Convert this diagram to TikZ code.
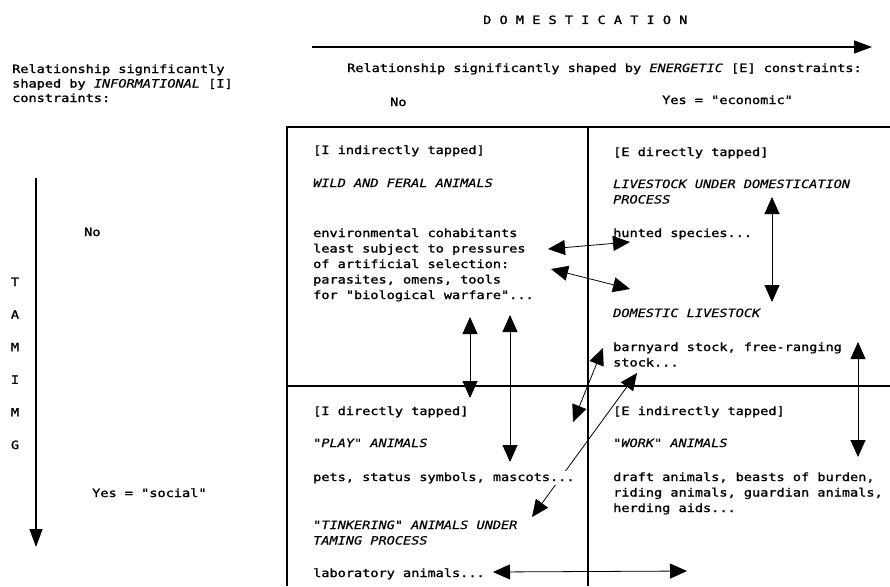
\documentclass[tikz,border=0pt]{standalone}
\usepackage{fontspec}
\newfontfamily\typer[FakeStretch=1.19,FakeBold=1.5,ItalicFeatures={FakeBold=0.3}]{DejaVu Sans Mono}
\usetikzlibrary{arrows.meta,backgrounds}

\tikzset{
	txt/.style={anchor=base west,inner sep=0pt,align=left,font=\typer\fontsize{11.4}{15.5}\selectfont},
	dbl/.style={line width=0.8pt,{Triangle[length=17pt,width=15pt]}-{Triangle[length=17pt,width=15pt]}},
	axis/.style={line width=1.2pt,-{Triangle[length=18pt,width=13pt]}},
	grid/.style={line width=1.2pt}
}

\begin{document}
\begin{tikzpicture}[x=1pt,y=-1pt]
	\useasboundingbox (0,0) rectangle (890,586);

	\node[txt] (domest) at (483,24) {D O M E S T I C A T I O N};
	\coordinate (domL) at (312,47);
	\coordinate (domR) at (872,47);
	\draw[axis] (domL) -- (domR);
	\node[txt,font=\typer\fontsize{11.4}{14.5}\selectfont] (infohead) at (12,102) {Relationship significantly\\shaped by \textit{INFORMATIONAL} [I]\\constraints:};
	\node[txt] (enerhead) at (347,72) {Relationship significantly shaped by \textit{ENERGETIC} [E] constraints:};
	\node[txt] (enerno) at (390,106) {No};
	\node[txt] (eneryes) at (662,104) {Yes = "economic"};

	\coordinate (tamT) at (36,178);
	\coordinate (tamB) at (36,547);
	\draw[axis] (tamT) -- (tamB);
	\foreach \l [count=\i] in {T,A,M,I,M,G}
		\node[txt,anchor=base] (tam\i) at (15,253.4+\i*32.6) {\l};
	\node[txt] (tamno) at (84,236) {No};
	\node[txt] (tamyes) at (92,497) {Yes = "social"};

	\draw[grid] (890,127) -- (287,127) -- (287,586);
	\draw[grid] (588,127) -- (588,586);
	\draw[grid] (287,386) -- (890,386);

	\node[txt] (itapI) at (313,154) {[I indirectly tapped]};
	\node[txt] (wild) at (313,187) {\textit{WILD AND FERAL ANIMALS}};
	\node[txt] (cohab) at (313,299) {environmental cohabitants\\least subject to pressures\\of artificial selection:\\parasites, omens, tools\\for "biological warfare"...};

	\node[txt] (etapD) at (613,156) {[E directly tapped]};
	\node[txt] (livedom) at (613,203.5) {\textit{LIVESTOCK UNDER DOMESTICATION}\\\textit{PROCESS}};
	\node[txt] (hunted) at (613,237) {hunted species...};
	\node[txt] (domlive) at (613,317) {\textit{DOMESTIC LIVESTOCK}};
	\node[txt] (barn) at (613,366.5) {barnyard stock, free-ranging\\stock...};

	\node[txt] (itapD) at (313,415) {[I directly tapped]};
	\node[txt] (play) at (313,447) {\textit{"PLAY" ANIMALS}};
	\node[txt,fill=white,inner sep=1.5pt] (pets) at (311.5,481) {pets, status symbols, mascots...};
	\node[txt] (tinker) at (313,544.5) {\textit{"TINKERING" ANIMALS UNDER}\\\textit{TAMING PROCESS}};
	\node[txt] (lab) at (313,577) {laboratory animals...};

	\node[txt] (etapI) at (613,415) {[E indirectly tapped]};
	\node[txt] (work) at (613,447) {\textit{"WORK" ANIMALS}};
	\node[txt] (draft) at (613,512) {draft animals, beasts of burden,\\riding animals, guardian animals,\\herding aids...};

	\coordinate (cohab1) at (548,249);   \coordinate (hunted1) at (630,242);
	\coordinate (cohab2) at (551,269);   \coordinate (domlive1) at (630,289);
	\coordinate (cohab3) at (470,317);   \coordinate (play1) at (470,398);
	\coordinate (cohab4) at (510,315);   \coordinate (pets1) at (510,462);
	\coordinate (livedom1) at (772,197); \coordinate (domlive2) at (772,302);
	\coordinate (barn1) at (858,342);    \coordinate (work1) at (858,457);
	\coordinate (barn2) at (603,348);    \coordinate (play2) at (573,422);
	\coordinate (barn3) at (637,373);    \coordinate (tinker1) at (532,517);
	\coordinate (lab1) at (493,572);     \coordinate (work2) at (687,571);

	\begin{pgfonlayer}{background}
	\foreach \from/\to in {cohab1/hunted1,cohab2/domlive1,cohab3/play1,cohab4/pets1,livedom1/domlive2,barn1/work1,barn2/play2,barn3/tinker1,lab1/work2}
		\draw[dbl] (\from) -- (\to);
	\end{pgfonlayer}
\end{tikzpicture}
\end{document}
